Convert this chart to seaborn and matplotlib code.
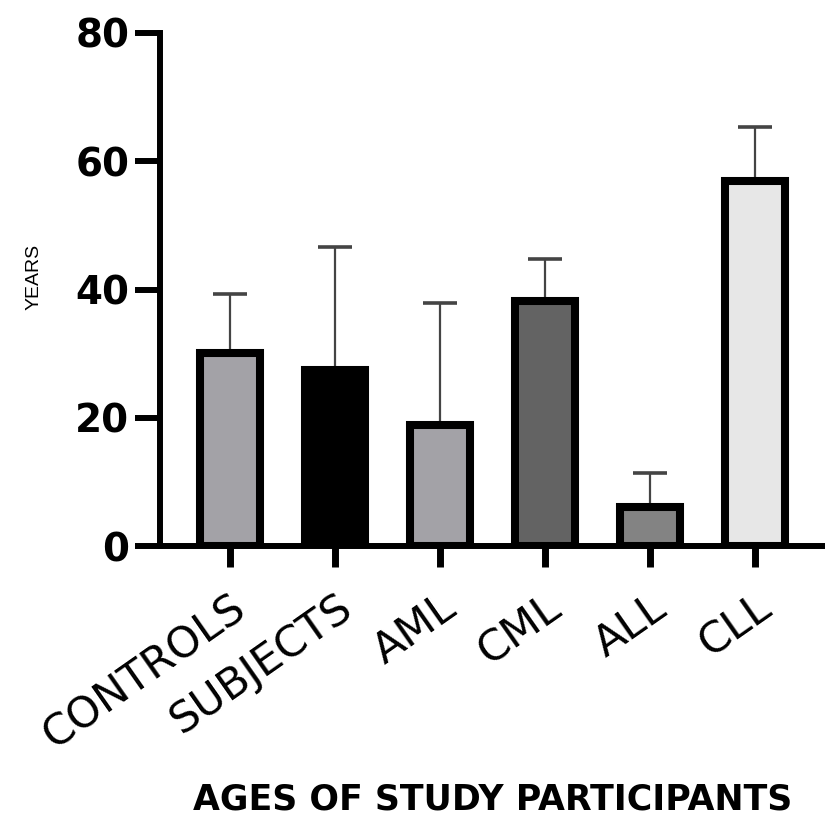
import numpy as np
import matplotlib
matplotlib.use("Agg")
import matplotlib.pyplot as plt
import seaborn as sns

# values (mean age and upper SD, years)
groups = ["CONTROLS", "SUBJECTS", "AML", "CML", "ALL", "CLL"]
mean_age = [30.1, 27.5, 18.9, 38.2, 6.1, 56.9]
sd_age = [9.2, 19.1, 19.0, 6.6, 5.3, 8.4]
bar_colors = ["#a3a2a7", "#000000", "#a3a2a7", "#636363", "#838383", "#e7e7e7"]
y_ticks = [0, 20, 40, 60, 80]

sns.set_style("ticks", {"axes.edgecolor": "black", "xtick.color": "black",
                        "ytick.color": "black", "text.color": "black",
                        "axes.labelcolor": "black"})
plt.rcParams["font.family"] = ["DejaVu Sans"]

fig = plt.figure(figsize=(8.25, 8.16), dpi=100)
ax = fig.add_axes([160 / 825, 1 - 546 / 816, 665 / 825, 513 / 816])

sns.barplot(x=groups, y=mean_age, hue=groups, palette=bar_colors, legend=False,
            width=0.571, edgecolor="black", linewidth=5.8, errorbar=None,
            saturation=1, ax=ax, zorder=2)

# upper error bars only, like the original
x_pos = np.arange(len(groups))
ax.errorbar(x_pos, mean_age, yerr=[np.zeros(len(groups)), sd_age], fmt="none",
            ecolor="#444444", elinewidth=1.6, capsize=12, capthick=2.6, zorder=1)

ax.set_xlim(-0.667, 5.667)
ax.set_ylim(0, 80)
ax.set_yticks(y_ticks)
sns.despine(ax=ax)
for side in ["left", "bottom"]:
    ax.spines[side].set_linewidth(4.3)
    ax.spines[side].set_capstyle("projecting")

ax.tick_params(axis="y", length=18, width=4.3, pad=4, labelsize=28)
ax.tick_params(axis="x", length=15, width=5, pad=14)
for lab in ax.get_yticklabels():
    lab.set_fontweight("bold")
ax.set_xticks(x_pos)
ax.set_xticklabels(groups, rotation=35, ha="right", va="top",
                   rotation_mode="anchor", fontsize=31)

ax.set_ylabel("YEARS", fontsize=14, family=["Liberation Sans", "DejaVu Sans"])
ax.yaxis.set_label_coords(-0.177, 0.524)
ax.set_xlabel("AGES OF STUDY PARTICIPANTS", fontsize=25, fontweight="bold",
              va="bottom")
ax.xaxis.set_label_coords(0.5, (546 - 816) / 513)

plt.savefig("out.png", dpi=100)
